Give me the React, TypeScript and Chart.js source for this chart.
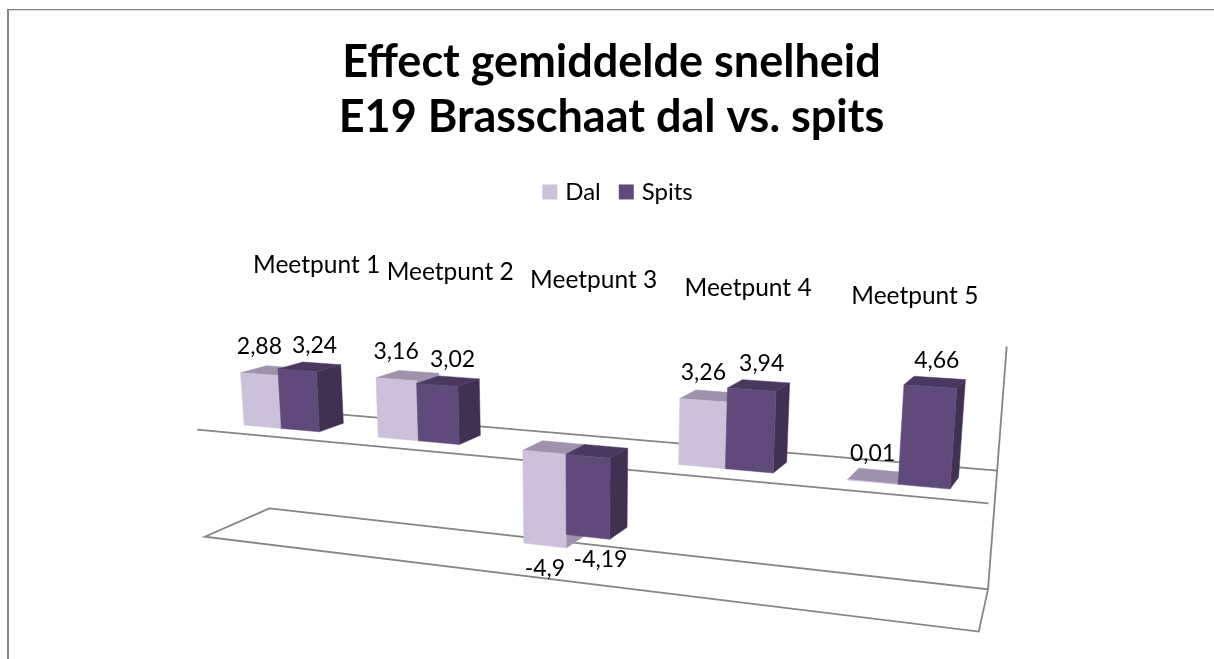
import React, { useEffect, useRef } from "react";
import { Chart, registerables } from "chart.js";

Chart.register(...registerables);

const categories = ["Meetpunt 1", "Meetpunt 2", "Meetpunt 3", "Meetpunt 4", "Meetpunt 5"];
const dal = [2.88, 3.16, -4.9, 3.26, 0.01];
const spits = [3.24, 3.02, -4.19, 3.94, 4.66];
const valueMin = -6;
const valueMax = 6;

const FONT = "Lato, Carlito, Calibri, sans-serif";
const GRID = "#868686";
const faces = [
  { front: "#ccc1da", top: "#9f92ac", side: "#9f92ac" },
  { front: "#604a7b", top: "#4a3860", side: "#403152" },
];

// Perspective camera: (u = category position, v = value, d = depth) -> screen pixel
function project(u: number, v: number, d: number): [number, number] {
  const w = 1 - 0.03535 * u - 0.00333 * v + 0.0265 * d;
  const x = 244 + 120.9 * u - 1.948 * v + 32.6 * d;
  const y = 425 - 3.27 * u - 19.4 * v + 2.8 * d;
  return [x / w, y / w];
}

const U_MIN = -0.215;
const U_FRONT_L = -0.195;
const U_FRONT_R = 4.81;
const U_BACK_L = -0.215;
const U_BACK_R = 4.75;
const D_FRONT = -0.8;
const D_BACK = 1.85;
const BAR_DEPTH = 1;
const AXIS_LABEL_V = 8.3;
const LEGEND_SHIFT = 8;

function poly(ctx: CanvasRenderingContext2D, pts: [number, number][], fill: string) {
  ctx.beginPath();
  pts.forEach((p, i) => (i ? ctx.lineTo(p[0], p[1]) : ctx.moveTo(p[0], p[1])));
  ctx.closePath();
  ctx.fillStyle = fill;
  ctx.fill();
  ctx.strokeStyle = fill;
  ctx.lineWidth = 0.5;
  ctx.stroke();
}

function line(ctx: CanvasRenderingContext2D, pts: [number, number][]) {
  ctx.beginPath();
  pts.forEach((p, i) => (i ? ctx.lineTo(p[0], p[1]) : ctx.moveTo(p[0], p[1])));
  ctx.strokeStyle = GRID;
  ctx.lineWidth = 1.8;
  ctx.stroke();
}

function xsToU(xs: any, i: number) {
  return U_MIN + ((xs.getPixelForTick(i) - xs.left) / xs.width) * categories.length;
}

const scene3d = {
  id: "scene3d",
  afterLayout(chart: any) {
    chart.legend.left += LEGEND_SHIFT;
    chart.legend.right += LEGEND_SHIFT;
  },
  beforeDraw(chart: any) {
    const c = chart.ctx as CanvasRenderingContext2D;
    c.save();
    c.fillStyle = "#ffffff";
    c.fillRect(0, 0, chart.width, chart.height);
    c.fillStyle = GRID;
    c.fillRect(7, 9, 2, chart.height - 9);
    c.fillRect(7, 9, chart.width - 7, 1.3);
    c.restore();
  },
  beforeDatasetsDraw(chart: any) {
    const c = chart.ctx as CanvasRenderingContext2D;
    const xs = chart.scales.x;
    const ys = chart.scales.y;
    const toU = (px: number) => U_MIN + ((px - xs.left) / xs.width) * categories.length;
    const P = (px: number, val: number, d: number) => project(toU(px), val, d);

    c.save();
    // Zero plane lines, floor and right wall
    line(c, [project(U_FRONT_L, 0, D_FRONT), project(U_FRONT_R, 0, D_FRONT)]);
    line(c, [project(U_BACK_L, 0, D_BACK), project(U_BACK_R, 0, D_BACK)]);
    line(c, [
      project(U_BACK_L, valueMin, D_BACK),
      project(U_FRONT_L, valueMin, D_FRONT),
      project(U_FRONT_R, valueMin, D_FRONT),
      project(U_BACK_R, valueMin, D_BACK),
      project(U_BACK_L, valueMin, D_BACK),
    ]);
    line(c, [project(U_BACK_R, valueMax, D_BACK), project(U_BACK_R, valueMin, D_BACK)]);

    // Bars
    const metas = chart.getSortedVisibleDatasetMetas();
    categories.forEach((_, i) => {
      metas.forEach((meta: any, s: number) => {
        const el = meta.data[i];
        const val = ys.getValueForPixel(el.y);
        const base = ys.getValueForPixel(el.base);
        const hi = Math.max(val, base);
        const lo = Math.min(val, base);
        const l = el.x - el.width / 2;
        const r = el.x + el.width / 2;
        const f = faces[s];
        poly(c, [P(r, hi, 0), P(r, hi, BAR_DEPTH), P(r, lo, BAR_DEPTH), P(r, lo, 0)], f.side);
        poly(c, [P(l, hi, 0), P(r, hi, 0), P(r, hi, BAR_DEPTH), P(l, hi, BAR_DEPTH)], f.top);
        poly(c, [P(l, hi, 0), P(r, hi, 0), P(r, lo, 0), P(l, lo, 0)], f.front);
      });
    });

    // Data labels
    c.fillStyle = "#000000";
    c.font = `23px ${FONT}`;
    c.textAlign = "center";
    c.textBaseline = "middle";
    metas.forEach((meta: any, s: number) => {
      const values = chart.data.datasets[meta.index].data as number[];
      meta.data.forEach((el: any, i: number) => {
        const val = values[i];
        const d = s === 0 ? 0 : 0.7;
        const [x, y] = P(el.x, val, d);
        const off = val >= 0 ? (s === 0 ? -28 : -20) : s === 0 ? 23 : 31;
        c.fillText(String(val).replace(".", ","), x, y + off);
      });
    });

    // Category labels
    c.font = `24.5px ${FONT}`;
    categories.forEach((label, i) => {
      const u = xsToU(xs, i);
      const [x, y] = project(u * 0.988 - 0.015, AXIS_LABEL_V - 0.04 * u, D_BACK);
      c.fillText(label, x, y);
    });
    c.restore();
    return false;
  },
};

export default function App() {
  const ref = useRef<HTMLCanvasElement>(null);
  useEffect(() => {
    document.body.style.margin = "0";
    const chart = new Chart(ref.current!, {
      type: "bar",
      data: {
        labels: categories,
        datasets: [
          { label: "Dal", data: dal, backgroundColor: faces[0].front },
          { label: "Spits", data: spits, backgroundColor: faces[1].front },
        ],
      },
      plugins: [scene3d],
      options: {
        responsive: false,
        animation: false,
        datasets: { bar: { categoryPercentage: 0.57, barPercentage: 1 } },
        layout: { padding: { top: 34, left: 9 } },
        scales: {
          x: { display: false },
          y: { display: false, min: valueMin, max: valueMax },
        },
        plugins: {
          tooltip: { enabled: false },
          title: {
            display: true,
            text: ["Effect gemiddelde snelheid", "E19 Brasschaat dal vs. spits"],
            color: "#000000",
            font: { family: FONT, size: 45, weight: "bold", lineHeight: 1.244 },
            padding: { top: 0, bottom: 12 },
          },
          legend: {
            display: true,
            labels: {
              color: "#000000",
              font: { family: FONT, size: 24 },
              usePointStyle: true,
              pointStyle: "rect",
              boxWidth: 7,
              boxHeight: 15,
              padding: 22,
            },
          },
        },
      },
    } as any);
    return () => chart.destroy();
  }, []);
  return <canvas ref={ref} width={1214} height={659} style={{ display: "block" }} />;
}
